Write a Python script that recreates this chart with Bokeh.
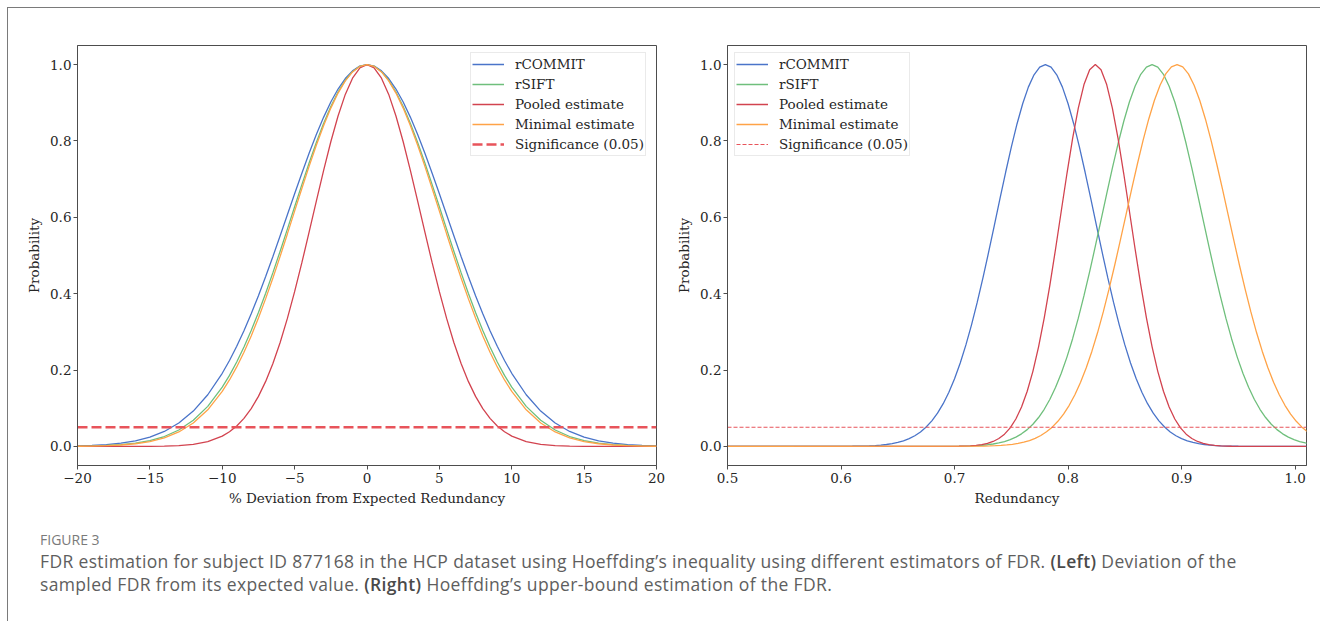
from bokeh.plotting import figure
from bokeh.models import Range1d, FixedTicker, Legend, LegendItem, Div, Spacer, PrintfTickFormatter
from bokeh.layouts import row, column
from bokeh.embed import file_html
from bokeh.resources import INLINE

# ---------------- data ----------------
# Left panel: % deviation from expected redundancy
x_left = [-20, -19, -18, -17, -16, -15, -14, -13, -12, -11,
          -10, -9.5, -9, -8.5, -8, -7.5, -7, -6.5, -6, -5.5, -5, -4.5, -4, -3.5, -3, -2.5, -2, -1.5, -1, -0.5,
          0,
          0.5, 1, 1.5, 2, 2.5, 3, 3.5, 4, 4.5, 5, 5.5, 6, 6.5, 7, 7.5, 8, 8.5, 9, 9.5, 10,
          11, 12, 13, 14, 15, 16, 17, 18, 19, 20]

left_rcommit = [0.0013, 0.0026, 0.0047, 0.0084, 0.0145, 0.0243, 0.0392, 0.0612, 0.0925, 0.1353,
                0.1915, 0.2250, 0.2622, 0.3029, 0.3472, 0.3947, 0.4449, 0.4974, 0.5515, 0.6065,
                0.6615, 0.7155, 0.7676, 0.8167, 0.8618, 0.9019, 0.9360, 0.9635, 0.9836, 0.9959,
                1.0,
                0.9959, 0.9836, 0.9635, 0.9360, 0.9019, 0.8618, 0.8167, 0.7676, 0.7155, 0.6615,
                0.6065, 0.5515, 0.4974, 0.4449, 0.3947, 0.3472, 0.3029, 0.2622, 0.2250, 0.1915,
                0.1353, 0.0925, 0.0612, 0.0392, 0.0243, 0.0145, 0.0084, 0.0047, 0.0026, 0.0013]

left_rsift = [0.0006, 0.0012, 0.0024, 0.0046, 0.0085, 0.0151, 0.0259, 0.0429, 0.0683, 0.1049,
              0.1551, 0.1860, 0.2211, 0.2602, 0.3034, 0.3506, 0.4013, 0.4551, 0.5113, 0.5691,
              0.6276, 0.6857, 0.7422, 0.7959, 0.8456, 0.8901, 0.9282, 0.9589, 0.9815, 0.9954,
              1.0,
              0.9954, 0.9815, 0.9589, 0.9282, 0.8901, 0.8456, 0.7959, 0.7422, 0.6857, 0.6276,
              0.5691, 0.5113, 0.4551, 0.4013, 0.3506, 0.3034, 0.2602, 0.2211, 0.1860, 0.1551,
              0.1049, 0.0683, 0.0429, 0.0259, 0.0151, 0.0085, 0.0046, 0.0024, 0.0012, 0.0006]

left_pooled = [0.0, 0.0, 0.0, 0.0, 0.0001, 0.0003, 0.0008, 0.0022, 0.0055, 0.0126,
               0.0270, 0.0384, 0.0536, 0.0735, 0.0990, 0.1310, 0.1703, 0.2173, 0.2723, 0.3352,
               0.4052, 0.4811, 0.5610, 0.6424, 0.7224, 0.7979, 0.8654, 0.9219, 0.9645, 0.9910,
               1.0,
               0.9910, 0.9645, 0.9219, 0.8654, 0.7979, 0.7224, 0.6424, 0.5610, 0.4811, 0.4052,
               0.3352, 0.2723, 0.2173, 0.1703, 0.1310, 0.0990, 0.0735, 0.0536, 0.0384, 0.0270,
               0.0126, 0.0055, 0.0022, 0.0008, 0.0003, 0.0001, 0.0, 0.0, 0.0, 0.0]

left_minimal = [0.0004, 0.0009, 0.0019, 0.0037, 0.0070, 0.0128, 0.0224, 0.0378, 0.0614, 0.0959,
                0.1441, 0.1740, 0.2082, 0.2466, 0.2894, 0.3363, 0.3870, 0.4411, 0.4978, 0.5565,
                0.6161, 0.6755, 0.7334, 0.7887, 0.8400, 0.8860, 0.9254, 0.9573, 0.9808, 0.9952,
                1.0,
                0.9952, 0.9808, 0.9573, 0.9254, 0.8860, 0.8400, 0.7887, 0.7334, 0.6755, 0.6161,
                0.5565, 0.4978, 0.4411, 0.3870, 0.3363, 0.2894, 0.2466, 0.2082, 0.1740, 0.1441,
                0.0959, 0.0614, 0.0378, 0.0224, 0.0128, 0.0070, 0.0037, 0.0019, 0.0009, 0.0004]

# Right panel: redundancy
x_r_rcommit = [0.5,
               0.6, 0.605, 0.61, 0.615, 0.62, 0.625, 0.63, 0.635, 0.64, 0.645, 0.65, 0.655, 0.66, 0.665,
               0.67, 0.675, 0.68, 0.685, 0.69, 0.695, 0.7, 0.705, 0.71, 0.715, 0.72, 0.725, 0.73, 0.735,
               0.74, 0.745, 0.75, 0.755, 0.76, 0.765, 0.77, 0.775, 0.78, 0.785, 0.79, 0.795, 0.8, 0.805,
               0.81, 0.815, 0.82, 0.825, 0.83, 0.835, 0.84, 0.845, 0.85, 0.855, 0.86, 0.865, 0.87, 0.875,
               0.88, 0.885, 0.89, 0.895, 0.9, 0.905, 0.91, 0.915, 0.92, 0.925, 0.93, 0.935, 0.94, 0.945,
               0.95, 0.955, 0.96,
               1.01]
right_rcommit = [0.0,
                 0.0002, 0.0003, 0.0004, 0.0006, 0.0010, 0.0015, 0.0023, 0.0034, 0.0050, 0.0072,
                 0.0104, 0.0146, 0.0204, 0.0280, 0.0379, 0.0507, 0.0669, 0.0871, 0.1119, 0.1417,
                 0.1772, 0.2185, 0.2658, 0.3190, 0.3778, 0.4413, 0.5086, 0.5783, 0.6488, 0.7180,
                 0.7840, 0.8445, 0.8975, 0.9410, 0.9733, 0.9933,
                 1.0,
                 0.9933, 0.9733, 0.9410, 0.8975, 0.8445, 0.7840, 0.7180, 0.6488, 0.5783, 0.5086,
                 0.4413, 0.3778, 0.3190, 0.2658, 0.2185, 0.1772, 0.1417, 0.1119, 0.0871, 0.0669,
                 0.0507, 0.0379, 0.0280, 0.0204, 0.0146, 0.0104, 0.0072, 0.0050, 0.0034, 0.0023,
                 0.0015, 0.0010, 0.0006, 0.0004, 0.0003, 0.0002,
                 0.0]

x_r_rsift = [0.5,
             0.704, 0.709, 0.714, 0.719, 0.724, 0.729, 0.734, 0.739, 0.744, 0.749, 0.754, 0.759, 0.764,
             0.769, 0.774, 0.779, 0.784, 0.789, 0.794, 0.799, 0.804, 0.809, 0.814, 0.819, 0.824, 0.829,
             0.834, 0.839, 0.844, 0.849, 0.854, 0.859, 0.864, 0.869, 0.874, 0.879, 0.884, 0.889, 0.894,
             0.899, 0.904, 0.909, 0.914, 0.919, 0.924, 0.929, 0.934, 0.939, 0.944, 0.949, 0.954, 0.959,
             0.964, 0.969, 0.974, 0.979, 0.984, 0.989, 0.994, 0.999, 1.004, 1.009, 1.014]
right_rsift = [0.0,
               0.0006, 0.0009, 0.0013, 0.0020, 0.0030, 0.0044, 0.0063, 0.0090, 0.0127, 0.0177,
               0.0243, 0.0329, 0.0439, 0.0580, 0.0756, 0.0972, 0.1234, 0.1547, 0.1915, 0.2339,
               0.2821, 0.3358, 0.3947, 0.4578, 0.5243, 0.5927, 0.6615, 0.7288, 0.7926, 0.8509,
               0.9019, 0.9435, 0.9745, 0.9936,
               1.0,
               0.9936, 0.9745, 0.9435, 0.9019, 0.8509, 0.7926, 0.7288, 0.6615, 0.5927, 0.5243,
               0.4578, 0.3947, 0.3358, 0.2821, 0.2339, 0.1915, 0.1547, 0.1234, 0.0972, 0.0756,
               0.0580, 0.0439, 0.0329, 0.0243, 0.0177, 0.0127, 0.0090, 0.0063]

x_r_pooled = [0.5,
              0.704, 0.709, 0.714, 0.719, 0.724, 0.729, 0.734, 0.739, 0.744, 0.749, 0.754, 0.759, 0.764,
              0.769, 0.774, 0.779, 0.784, 0.789, 0.794, 0.799, 0.804, 0.809, 0.814, 0.819, 0.824, 0.829,
              0.834, 0.839, 0.844, 0.849, 0.854, 0.859, 0.864, 0.869, 0.874, 0.879, 0.884, 0.889, 0.894,
              0.899, 0.904, 0.909, 0.914, 0.919, 0.924, 0.929, 0.934, 0.939, 0.944,
              1.01]
right_pooled = [0.0,
                0.0004, 0.0008, 0.0015, 0.0027, 0.0046, 0.0078, 0.0129, 0.0206, 0.0321, 0.0486,
                0.0718, 0.1032, 0.1444, 0.1967, 0.2609, 0.3368, 0.4232, 0.5177, 0.6165, 0.7147,
                0.8066, 0.8861, 0.9477, 0.9867,
                1.0,
                0.9867, 0.9477, 0.8861, 0.8066, 0.7147, 0.6165, 0.5177, 0.4232, 0.3368, 0.2609,
                0.1967, 0.1444, 0.1032, 0.0718, 0.0486, 0.0321, 0.0206, 0.0129, 0.0078, 0.0046,
                0.0027, 0.0015, 0.0008, 0.0004,
                0.0]

x_r_minimal = [0.5,
               0.726, 0.731, 0.736, 0.741, 0.746, 0.751, 0.756, 0.761, 0.766, 0.771, 0.776, 0.781, 0.786,
               0.791, 0.796, 0.801, 0.806, 0.811, 0.816, 0.821, 0.826, 0.831, 0.836, 0.841, 0.846, 0.851,
               0.856, 0.861, 0.866, 0.871, 0.876, 0.881, 0.886, 0.891, 0.896, 0.901, 0.906, 0.911, 0.916,
               0.921, 0.926, 0.931, 0.936, 0.941, 0.946, 0.951, 0.956, 0.961, 0.966, 0.971, 0.976, 0.981,
               0.986, 0.991, 0.996, 1.001, 1.006, 1.011, 1.016]
right_minimal = [0.0,
                 0.0008, 0.0012, 0.0018, 0.0027, 0.0039, 0.0056, 0.0079, 0.0111, 0.0154, 0.0211,
                 0.0286, 0.0382, 0.0504, 0.0657, 0.0847, 0.1077, 0.1353, 0.1680, 0.2059, 0.2494,
                 0.2982, 0.3523, 0.4111, 0.4738, 0.5394, 0.6065, 0.6736, 0.7390, 0.8007, 0.8570,
                 0.9060, 0.9460, 0.9756, 0.9939,
                 1.0,
                 0.9939, 0.9756, 0.9460, 0.9060, 0.8570, 0.8007, 0.7390, 0.6736, 0.6065, 0.5394,
                 0.4738, 0.4111, 0.3523, 0.2982, 0.2494, 0.2059, 0.1680, 0.1353, 0.1077, 0.0847,
                 0.0657, 0.0504, 0.0382, 0.0286]

sig_level = 0.05
series_names = ["rCOMMIT", "rSIFT", "Pooled estimate", "Minimal estimate"]
sig_name = "Significance (0.05)"
left_xticks = [-20, -15, -10, -5, 0, 5, 10, 15, 20]
left_xtick_labels = ["\u221220", "\u221215", "\u221210", "\u22125", "0", "5", "10", "15", "20"]
right_xticks = [0.5, 0.6, 0.7, 0.8, 0.9, 1.0]
yticks = [0.0, 0.2, 0.4, 0.6, 0.8, 1.0]
left_xlabel = "% Deviation from Expected Redundancy"
right_xlabel = "Redundancy"
ylabel = "Probability"

# ---------------- styling ----------------
COLORS = ["#4a74c9", "#6fbf7c", "#d2434f", "#ffa347"]
SIG_COLOR = "#e8545b"
FONT = "DejaVu Serif"
TXT = "#262626"
FRAME = "#4d4d4d"


def make_fig(width, border_left, xr):
    p = figure(width=width, height=500, x_range=xr, y_range=Range1d(-0.05, 1.05),
               output_backend="svg", toolbar_location=None,
               min_border_left=border_left, min_border_right=14,
               min_border_top=37, min_border_bottom=42)
    p.background_fill_color = "white"
    p.border_fill_color = "white"
    p.xgrid.visible = False
    p.ygrid.visible = False
    p.outline_line_color = FRAME
    p.outline_line_width = 1
    for ax in (p.xaxis[0], p.yaxis[0]):
        ax.axis_line_color = FRAME
        ax.major_tick_line_color = FRAME
        ax.major_tick_out = 4
        ax.major_tick_in = 0
        ax.minor_tick_out = 0
        ax.minor_tick_in = 0
        ax.major_label_text_font = FONT
        ax.major_label_text_font_size = "13.5px"
        ax.major_label_text_color = TXT
        ax.axis_label_text_font = FONT
        ax.axis_label_text_font_size = "13.5px"
        ax.axis_label_text_font_style = "normal"
        ax.axis_label_text_color = TXT
    p.xaxis[0].major_label_standoff = 3
    p.xaxis[0].axis_label_standoff = 4
    p.yaxis[0].major_label_standoff = 2
    p.yaxis[0].axis_label_standoff = 5
    p.yaxis[0].ticker = FixedTicker(ticks=yticks)
    p.yaxis[0].formatter = PrintfTickFormatter(format="%.1f")
    p.yaxis[0].axis_label = ylabel
    return p


def add_legend(p, items, location):
    lg = Legend(items=items, location=location)
    lg.label_text_font = FONT
    lg.label_text_font_size = "13.5px"
    lg.label_text_color = TXT
    lg.label_standoff = 11
    lg.glyph_width = 32
    lg.glyph_height = 20
    lg.label_height = 20
    lg.spacing = 0
    lg.padding = 1
    lg.margin = 7
    lg.border_line_color = "#d5d5d5"
    lg.border_line_width = 1
    lg.background_fill_color = "white"
    lg.background_fill_alpha = 0.85
    p.add_layout(lg)


# Left figure
p1 = make_fig(662, 69, Range1d(-20, 20))
p1.xaxis[0].ticker = FixedTicker(ticks=left_xticks)
p1.xaxis[0].major_label_overrides = {t: s for t, s in zip(left_xticks, left_xtick_labels)}
p1.xaxis[0].axis_label = left_xlabel
r_items = []
for name, ys, c in zip(series_names, [left_rcommit, left_rsift, left_pooled, left_minimal], COLORS):
    r = p1.line(x_left, ys, line_color=c, line_width=1.3)
    r_items.append(LegendItem(label=name, renderers=[r]))
rs = p1.line([x_left[0], x_left[-1]], [sig_level, sig_level], line_color=SIG_COLOR,
             line_width=2.6, line_dash="10 4")
r_items.append(LegendItem(label=sig_name, renderers=[rs]))
# legend anchored (in screen px from the frame's bottom-left) so its box starts near x=470
add_legend(p1, r_items, (393, 309))

# Right figure
p2 = make_fig(650, 57, Range1d(0.5, 1.01))
p2.xaxis[0].ticker = FixedTicker(ticks=right_xticks)
p2.xaxis[0].formatter = PrintfTickFormatter(format="%.1f")
p2.xaxis[0].axis_label = right_xlabel
r_items2 = []
for name, xs, ys, c in zip(series_names,
                           [x_r_rcommit, x_r_rsift, x_r_pooled, x_r_minimal],
                           [right_rcommit, right_rsift, right_pooled, right_minimal], COLORS):
    r = p2.line(xs, ys, line_color=c, line_width=1.3)
    r_items2.append(LegendItem(label=name, renderers=[r]))
rs2 = p2.line([x_r_rcommit[0], x_r_rcommit[-1]], [sig_level, sig_level], line_color=SIG_COLOR,
              line_width=1.1, line_dash="4 2")
r_items2.append(LegendItem(label=sig_name, renderers=[rs2]))
add_legend(p2, r_items2, "top_left")

caption_html = (
    '<div style="font-family:\'Open Sans\', sans-serif; color:#5e5e5e; padding:23px 0 0 32px;">'
    '<div style="font-size:14px; line-height:17px; color:#7a7a7a; margin-bottom:2px;">FIGURE 3</div>'
    '<div style="font-size:17.5px; line-height:23px; letter-spacing:0.35px; white-space:nowrap;">'
    'FDR estimation for subject ID 877168 in the HCP dataset using Hoeffding\u2019s inequality using '
    'different estimators of FDR. <b style="color:#4a4a4a; font-weight:600;">(Left)</b> Deviation of the<br>'
    'sampled FDR from its expected value. <b style="color:#4a4a4a; font-weight:600;">(Right)</b> '
    'Hoeffding\u2019s upper-bound estimation of the FDR.'
    '</div></div>'
)
caption = Div(text=caption_html, width=1312, height=113, margin=(0, 0, 0, 0))

hline = Div(text="", width=1313, height=1, margin=(0, 0, 0, 0),
            styles={"background-color": "#7a7a7a"})
vline = Div(text="", width=1, height=613, margin=(0, 0, 0, 0),
            styles={"background-color": "#7a7a7a"})

inner = column(row(p1, p2, spacing=0), caption, spacing=0)
root = column(Spacer(height=7, width=1320),
              row(Spacer(width=7, height=614),
                  column(hline, row(vline, inner, spacing=0), spacing=0), spacing=0),
              spacing=0)

open("out.html", "w").write(file_html(root, INLINE))
